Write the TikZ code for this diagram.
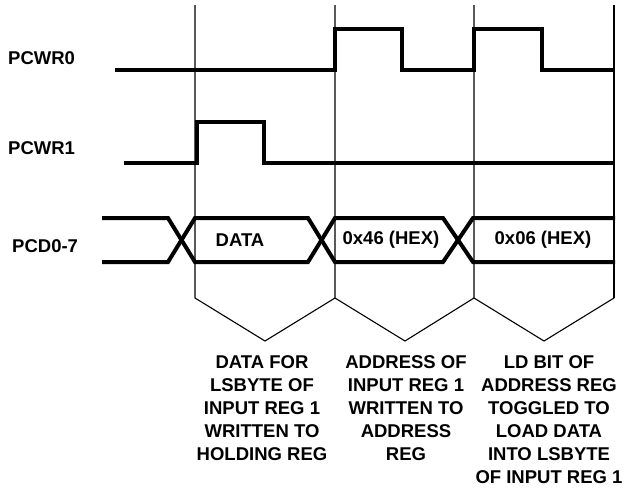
\documentclass[tikz,border=0pt]{standalone}
\usepackage{fontspec}
\setmainfont{Liberation Sans}
\begin{document}
\begin{tikzpicture}[x=1pt,y=-1pt,
  sig/.style={line width=4pt, line join=miter},
  tick/.style={line width=1.1pt},
  lbl/.style={font=\fontsize{18.5}{23}\selectfont\bfseries, inner sep=0pt}]
\useasboundingbox (0,0) rectangle (624,488);

\draw [tick] (195,5) -- (195,298) -- (265,341) -- (335,298);
\draw [tick] (335,5) -- (335,298) -- (405,341) -- (474,298);
\draw [tick] (474,5) -- (474,298) -- (544,341) -- (614,298);
\draw [tick] (614,5) -- (614,298);

\draw [sig] (115,70) -- (335,70) -- (335,29) -- (402,29) -- (402,70) -- (474,70) -- (474,29) -- (542,29) -- (542,70) -- (615,70);
\draw [sig] (124,163) -- (197,163) -- (197,122) -- (264,122) -- (264,163) -- (615,163);
\draw [sig] (102,218) -- (168,218) -- (195,262) -- (308,262) -- (335,218) -- (443,218) -- (473,262) -- (615,262);
\draw [sig] (102,262) -- (168,262) -- (195,218) -- (308,218) -- (335,262) -- (443,262) -- (473,218) -- (615,218);

\node [lbl, anchor=west] (pcwr0) at (8,58) {PCWR0};
\node [lbl, anchor=west] (pcwr1) at (8,148) {PCWR1};
\node [lbl, anchor=west] (pcd) at (12,246) {PCD0-7};

\node [lbl] (data) at (240,240) {DATA};
\node [lbl] (addr) at (391,240) {0x46 (HEX)};
\node [lbl] (ldbit) at (543,240) {0x06 (HEX)};

\node [lbl, anchor=north, align=center] (note1) at (262,355) {DATA FOR\\LSBYTE OF\\INPUT REG 1\\WRITTEN TO\\HOLDING REG};
\node [lbl, anchor=north, align=center] (note2) at (406,355) {ADDRESS OF\\INPUT REG 1\\WRITTEN TO\\ADDRESS\\REG};
\node [lbl, anchor=north, align=center] (note3) at (549,355) {LD BIT OF\\ADDRESS REG\\TOGGLED TO\\LOAD DATA\\INTO LSBYTE\\OF INPUT REG 1};
\end{tikzpicture}
\end{document}
